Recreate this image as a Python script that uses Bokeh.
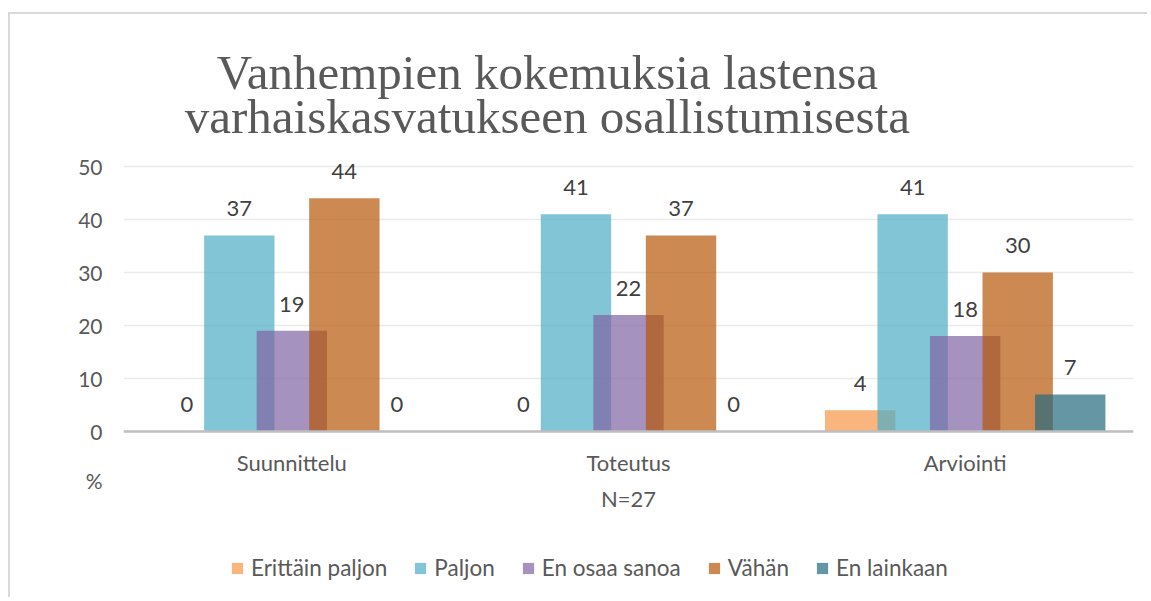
from bokeh.plotting import figure
from bokeh.models import (FactorRange, Range1d, LabelSet, Label, ColumnDataSource, Legend,
                          LegendItem, FixedTicker)
from bokeh.core.properties import value
from bokeh.transform import dodge
from bokeh.embed import file_html
from bokeh.resources import INLINE

categories = ["Suunnittelu", "Toteutus", "Arviointi"]
series_names = ["Erittäin paljon", "Paljon", "En osaa sanoa", "Vähän", "En lainkaan"]
erittain_paljon = [0, 0, 4]
paljon = [37, 41, 41]
en_osaa_sanoa = [19, 22, 18]
vahan = [44, 37, 30]
en_lainkaan = [0, 0, 7]
series_values = [erittain_paljon, paljon, en_osaa_sanoa, vahan, en_lainkaan]
colors = ["#F79646", "#4BACC6", "#8064A2", "#B65708", "#24697C"]
y_ticks = [0, 10, 20, 30, 40, 50]
title_lines = ["Vanhempien kokemuksia lastensa", "varhaiskasvatukseen osallistumisesta"]
x_title = "N=27"
y_unit = "%"
y_unit_pos = -9.2

FONT = "Lato"
TXT = "#595959"

# the frame spans the whole canvas height so that title and legend stay inside it
p = figure(x_range=FactorRange(*categories, range_padding=0), y_range=Range1d(-31.70, 78.68),
           width=1139, height=585, output_backend="svg", toolbar_location=None,
           min_border_left=113, min_border_right=16, min_border_top=0,
           min_border_bottom=0)
p.margin = (12, 0, 0, 8)
p.styles = {"border-top": "2px solid #d9d9d9", "border-left": "2px solid #d9d9d9"}
p.outline_line_color = None
p.background_fill_color = "white"
p.border_fill_color = "white"

step = 0.156
width = 0.209
items = []
for i, (name, vals, col) in enumerate(zip(series_names, series_values, colors)):
    off = (i - 2) * step
    src = ColumnDataSource(dict(cat=categories, val=vals, txt=[str(v) for v in vals]))
    r = p.vbar(x=dodge("cat", off, range=p.x_range), top="val", bottom=0, width=width, source=src,
               fill_color=col, fill_alpha=0.7, line_color=None)
    items.append(LegendItem(label=name, renderers=[r]))
    lbl = LabelSet(x=dodge("cat", off, range=p.x_range), y="val", text="txt", source=src,
                   y_offset=19, text_align="center", text_baseline="alphabetic",
                   text_font=value(FONT), text_font_size="22px", text_color="#404040")
    p.add_layout(lbl)

p.yaxis.ticker = FixedTicker(ticks=[y_unit_pos] + y_ticks)
p.yaxis.major_label_overrides = {y_unit_pos: y_unit}
p.yaxis.axis_line_color = None
p.yaxis.major_tick_line_color = None
p.yaxis.minor_tick_line_color = None
p.yaxis.major_label_text_font = FONT
p.yaxis.major_label_text_font_size = "21px"
p.yaxis.major_label_text_color = TXT
p.yaxis.major_label_standoff = 15
p.ygrid.ticker = FixedTicker(ticks=y_ticks)

p.xaxis.fixed_location = 0
p.xaxis.axis_line_color = "#bfbfbf"
p.xaxis.axis_line_width = 2.5
p.xaxis.major_tick_line_color = None
p.xaxis.minor_tick_line_color = None
p.xaxis.major_label_text_font = FONT
p.xaxis.major_label_text_font_size = "22px"
p.xaxis.major_label_text_color = TXT
p.xaxis.major_label_standoff = 12
p.xaxis.axis_label = x_title
p.xaxis.axis_label_text_font = FONT
p.xaxis.axis_label_text_font_size = "22px"
p.xaxis.axis_label_text_font_style = "normal"
p.xaxis.axis_label_text_color = TXT
p.xaxis.axis_label_standoff = 5

p.xgrid.grid_line_color = None
p.ygrid.grid_line_color = "#ebebeb"
p.ygrid.grid_line_width = 1.5

legend = Legend(items=items, orientation="horizontal", location=(107, 18),
                glyph_width=14, glyph_height=14, label_standoff=7, spacing=26,
                padding=0, margin=0, border_line_color=None, background_fill_alpha=0,
                label_text_font=FONT, label_text_font_size="22.5px", label_text_color=TXT)
p.add_layout(legend, "center")

for line, yv in zip(title_lines, [67.8, 59.5]):
    p.add_layout(Label(x=1.259, y=yv, text=line, text_align="center", text_baseline="alphabetic",
                       text_font="Liberation Serif", text_font_size="49px", text_color=TXT))

open("out.html", "w").write(file_html(p, INLINE))
